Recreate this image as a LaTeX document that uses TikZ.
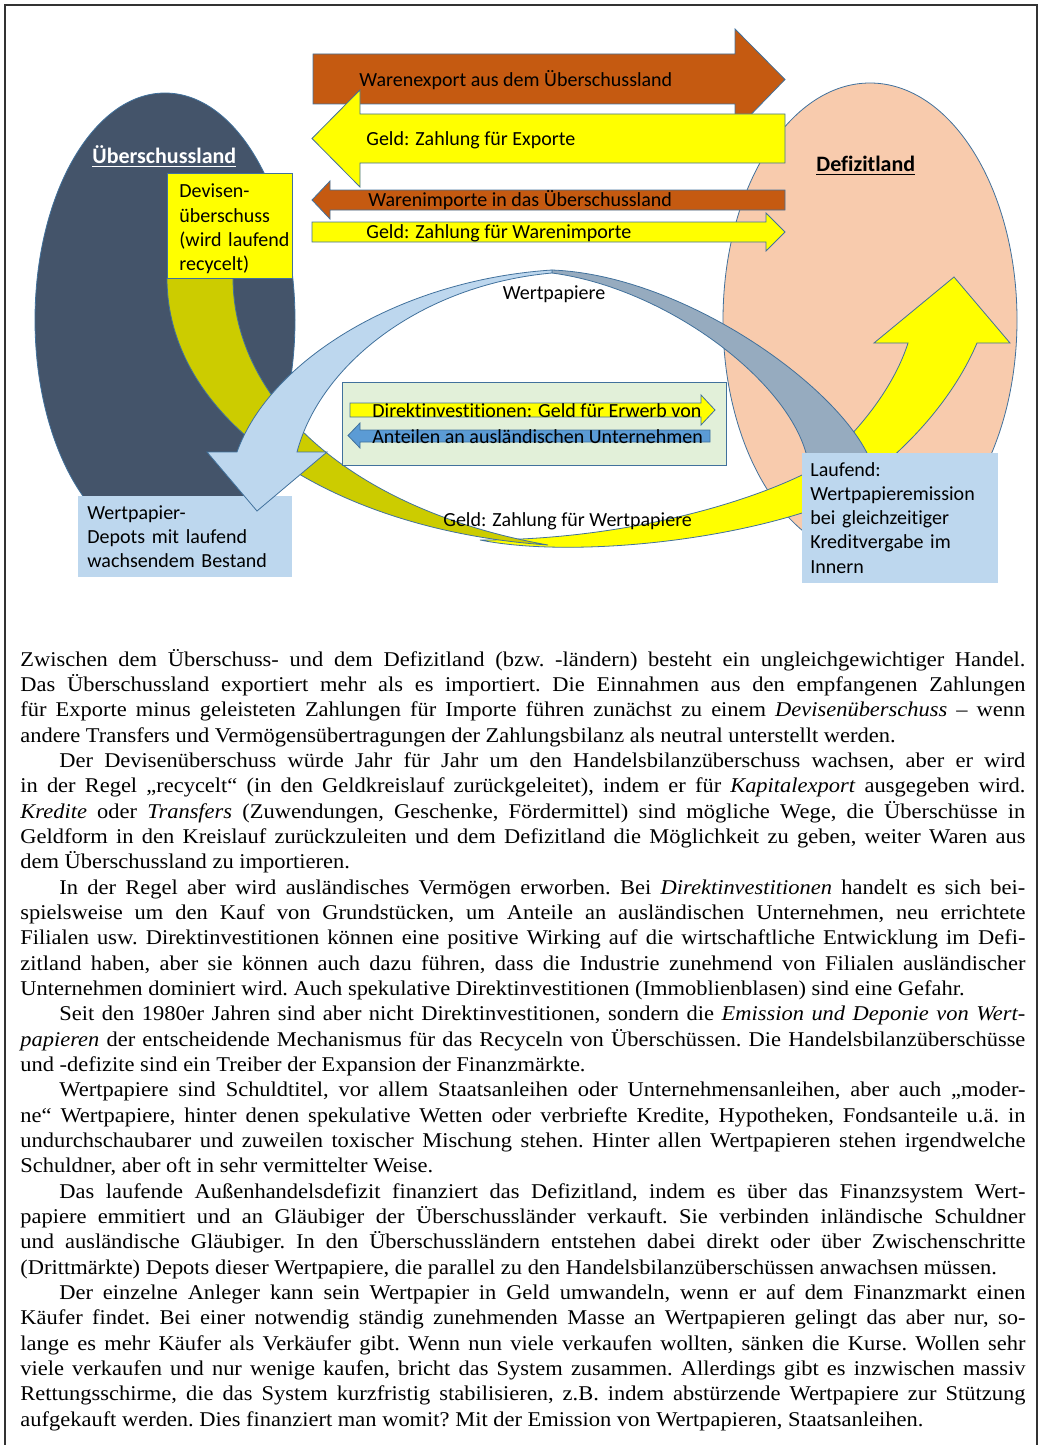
\documentclass[tikz,border=0pt]{standalone}
\usepackage{fontspec}
\setmainfont{Liberation Serif}[FakeStretch=1.07]
\newfontfamily\calibri{Carlito}[Ligatures=NoCommon]
\definecolor{warenorange}{RGB}{197,90,17}
\definecolor{geldgelb}{RGB}{255,255,0}
\definecolor{randblau}{RGB}{65,113,156}
\definecolor{landdunkel}{RGB}{68,84,106}
\definecolor{landpfirsich}{RGB}{248,203,173}
\definecolor{oliv}{RGB}{204,204,0}
\definecolor{hellblau}{RGB}{189,215,238}
\definecolor{graublau}{RGB}{150,171,191}
\definecolor{hellgruen}{RGB}{226,240,217}
\definecolor{mittelblau}{RGB}{91,155,213}
\tikzset{
  form/.style={draw=randblau, line width=0.4pt},
  lbl/.style={font=\calibri\fontsize{10}{12.15}\selectfont, inner sep=0pt, anchor=base west},
  boxtext/.style={lbl, text width=#1, align=left},
  ttl/.style={font=\calibri\bfseries\fontsize{11}{13}\selectfont, inner sep=0pt, anchor=base west},
  body/.style={font=\fontsize{10.5}{12.667}\selectfont, text width=502.5pt, align=justify, inner sep=0pt, anchor=base west}
}
\begin{document}
\begin{tikzpicture}[x=0.5pt, y=-0.5pt]
\useasboundingbox (0,0) rectangle (1043,1445);
\draw[line width=1pt, black!80] (5,1445) -- (5,5) -- (1037,5) -- (1037,1445);

\filldraw[form, fill=landpfirsich] (870,320) ellipse [x radius=147, y radius=237];
\filldraw[form, fill=landdunkel] (165,320) ellipse [x radius=130, y radius=227];

\filldraw[form, fill=warenorange] (313,54) -- (735,54) -- (735,29) -- (785,79.5) -- (735,131) -- (735,104) -- (313,104) -- cycle;
\filldraw[form, fill=geldgelb] (785,114) -- (360,114) -- (360,90) -- (312,138.5) -- (360,187) -- (360,163) -- (785,163) -- cycle;
\filldraw[form, fill=warenorange] (785,190) -- (330,190) -- (330,181) -- (312,200) -- (330,219) -- (330,210) -- (785,210) -- cycle;
\filldraw[form, fill=geldgelb] (312,222) -- (766,222) -- (766,213) -- (785,232) -- (766,251) -- (766,242) -- (312,242) -- cycle;

\filldraw[form, fill=geldgelb] (480,540) .. controls (560,556) and (700,545) .. (802,513) .. controls (850,500) and (940,430) .. (977,343) -- (1010,343) -- (954,277) -- (874,343) -- (908,343) .. controls (890,400) and (835,458) .. (802,475) .. controls (740,505) and (620,540) .. (480,540) -- cycle;
\filldraw[form, fill=oliv] (167,278) .. controls (167,420) and (330,530) .. (548,545) .. controls (350,510) and (233,400) .. (233,278) -- cycle;
\filldraw[form, fill=graublau] (552,270) .. controls (680,275) and (830,380) .. (867,453) -- (870,465) -- (808,465) -- (806,453) .. controls (785,378) and (665,288) .. (552,273) -- cycle;

\fill[hellblau] (78,496) rectangle (292,577);
\filldraw[form, fill=hellblau] (552,270) .. controls (400,280) and (270,360) .. (237,452) -- (207,452) -- (257,511) -- (327,452) -- (297,452) .. controls (320,365) and (420,285) .. (552,273) -- cycle;
\filldraw[form, fill=geldgelb] (167,173) rectangle (292,278);

\filldraw[form, fill=hellgruen] (342,382) rectangle (726,465);
\filldraw[form, fill=geldgelb] (350,403) -- (701,403) -- (701,395) -- (715,410) -- (701,425) -- (701,417) -- (350,417) -- cycle;
\filldraw[form, fill=mittelblau] (710,430) -- (360,430) -- (360,423) -- (348,435.5) -- (360,448) -- (360,442) -- (710,442) -- cycle;

\fill[hellblau] (802,453) rectangle (998,583);

\node[ttl, text=white] (ueberschuss) at (92,163) {\underline{Überschussland}};
\node[ttl] (defizit) at (816,171) {\underline{Defizitland}};
\node[lbl] (export) at (359,87) {Warenexport aus dem Überschussland};
\node[lbl] (zahlexport) at (366,146) {Geld: Zahlung für Exporte};
\node[lbl] (import) at (368,206) {Warenimporte in das Überschussland};
\node[lbl] (zahlimport) at (366,238) {Geld: Zahlung für Warenimporte};
\node[boxtext=60pt] (devisen) at (179,198) {Devisen-\\überschuss\\(wird laufend\\recycelt)};
\node[boxtext=100pt] (depots) at (87,519) {Wertpapier-\\Depots mit laufend\\wachsendem Bestand};
\node[boxtext=95pt] (laufend) at (810,476) {Laufend:\\Wertpapieremission\\bei gleichzeitiger\\Kreditvergabe im\\Innern};
\node[lbl] (direkt) at (372,417) {Direktinvestitionen: Geld für Erwerb von};
\node[lbl] (anteile) at (372,443) {Anteilen an ausländischen Unternehmen};
\node[lbl, anchor=base] (wertpapiere) at (554,299) {Wertpapiere};
\node[lbl] (zahlwp) at (443,526) {Geld: Zahlung für Wertpapiere};

\node[body] (erlaeuterung) at (20,666) {\frenchspacing\setlength{\parindent}{19.5pt}\noindent
Zwischen dem Überschuss- und dem Defizitland (bzw. -ländern) besteht ein ungleichgewichtiger Handel.\linebreak
Das Überschussland exportiert mehr als es importiert. Die Einnahmen aus den empfangenen Zahlungen\linebreak
für Exporte minus geleisteten Zahlungen für Importe führen zunächst zu einem \textit{Devisenüberschuss} – wenn\linebreak
andere Transfers und Vermögensübertragungen der Zahlungsbilanz als neutral unterstellt werden.\par
Der Devisenüberschuss würde Jahr für Jahr um den Handelsbilanzüberschuss wachsen, aber er wird\linebreak
in der Regel „recycelt“ (in den Geldkreislauf zurückgeleitet), indem er für \textit{Kapitalexport} ausgegeben wird.\linebreak
\textit{Kredite} oder \textit{Transfers} (Zuwendungen, Geschenke, Fördermittel) sind mögliche Wege, die Überschüsse in\linebreak
Geldform in den Kreislauf zurückzuleiten und dem Defizitland die Möglichkeit zu geben, weiter Waren aus\linebreak
dem Überschussland zu importieren.\par
In der Regel aber wird ausländisches Vermögen erworben. Bei \textit{Direktinvestitionen} handelt es sich bei-\linebreak
spielsweise um den Kauf von Grundstücken, um Anteile an ausländischen Unternehmen, neu errichtete\linebreak
Filialen usw. Direktinvestitionen können eine positive Wirking auf die wirtschaftliche Entwicklung im Defi-\linebreak
zitland haben, aber sie können auch dazu führen, dass die Industrie zunehmend von Filialen ausländischer\linebreak
Unternehmen dominiert wird. Auch spekulative Direktinvestitionen (Immoblienblasen) sind eine Gefahr.\par
Seit den 1980er Jahren sind aber nicht Direktinvestitionen, sondern die \textit{Emission und Deponie von Wert-}\linebreak
\textit{papieren} der entscheidende Mechanismus für das Recyceln von Überschüssen. Die Handelsbilanzüberschüsse\linebreak
und -defizite sind ein Treiber der Expansion der Finanzmärkte.\par
Wertpapiere sind Schuldtitel, vor allem Staatsanleihen oder Unternehmensanleihen, aber auch „moder-\linebreak
ne“ Wertpapiere, hinter denen spekulative Wetten oder verbriefte Kredite, Hypotheken, Fondsanteile u.ä. in\linebreak
undurchschaubarer und zuweilen toxischer Mischung stehen. Hinter allen Wertpapieren stehen irgendwelche\linebreak
Schuldner, aber oft in sehr vermittelter Weise.\par
Das laufende Außenhandelsdefizit finanziert das Defizitland, indem es über das Finanzsystem Wert-\linebreak
papiere emmitiert und an Gläubiger der Überschussländer verkauft. Sie verbinden inländische Schuldner\linebreak
und ausländische Gläubiger. In den Überschussländern entstehen dabei direkt oder über Zwischenschritte\linebreak
(Drittmärkte) Depots dieser Wertpapiere, die parallel zu den Handelsbilanzüberschüssen anwachsen müssen.\par
Der einzelne Anleger kann sein Wertpapier in Geld umwandeln, wenn er auf dem Finanzmarkt einen\linebreak
Käufer findet. Bei einer notwendig ständig zunehmenden Masse an Wertpapieren gelingt das aber nur, so-\linebreak
lange es mehr Käufer als Verkäufer gibt. Wenn nun viele verkaufen wollten, sänken die Kurse. Wollen sehr\linebreak
viele verkaufen und nur wenige kaufen, bricht das System zusammen. Allerdings gibt es inzwischen massiv\linebreak
Rettungsschirme, die das System kurzfristig stabilisieren, z.B. indem abstürzende Wertpapiere zur Stützung\linebreak
aufgekauft werden. Dies finanziert man womit? Mit der Emission von Wertpapieren, Staatsanleihen.};
\end{tikzpicture}
\end{document}
